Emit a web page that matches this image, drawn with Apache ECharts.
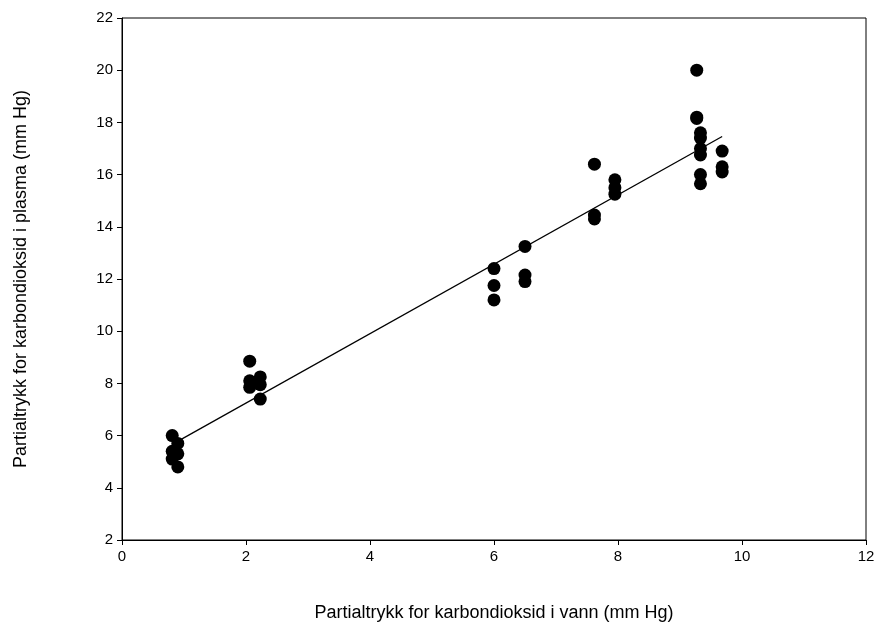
<!DOCTYPE html><html><head><meta charset="utf-8"><script src="https://cdn.jsdelivr.net/npm/echarts@6/dist/echarts.min.js"></script></head><body style="margin:0"><div id="c" style="width:880px;height:628px"></div><script>
var xVals=[0.81,0.9,0.81,0.9,0.81,0.9, 2.06,2.06,2.06,2.23,2.23,2.23, 6.0,6.0,6.0,6.5,6.5,6.5, 7.62,7.62,7.62,7.95,7.95,7.95, 9.27,9.27,9.27,9.33,9.33,9.33,9.33,9.33,9.33,9.68,9.68,9.68];
var yVals=[6.0,5.7,5.4,5.3,5.1,4.8, 8.85,8.1,7.85,8.25,7.95,7.4, 12.4,11.75,11.2,13.25,12.15,11.9, 16.4,14.45,14.3,15.8,15.5,15.25, 20.0,18.2,18.15,17.6,17.4,17.0,16.75,16.0,15.65,16.9,16.3,16.1];
var pts=xVals.map(function(x,i){return [x,yVals[i]];});
var n=xVals.length,sx=0,sy=0,sxx=0,sxy=0;
for(var i=0;i<n;i++){sx+=xVals[i];sy+=yVals[i];sxx+=xVals[i]*xVals[i];sxy+=xVals[i]*yVals[i];}
var b=(n*sxy-sx*sy)/(n*sxx-sx*sx),a=(sy-b*sx)/n;
var x0=Math.min.apply(null,xVals),x1=Math.max.apply(null,xVals);
var fit=[[x0,a+b*x0],[x1,a+b*x1]];
var ch=echarts.init(document.getElementById('c'));
var ax={axisLine:{show:true,lineStyle:{color:'#000'}},axisTick:{inside:false,length:5,lineStyle:{color:'#000'}},axisLabel:{color:'#000',fontSize:15,fontFamily:'Liberation Sans',margin:9},splitLine:{show:false},nameTextStyle:{color:'#000',fontSize:18,fontFamily:'Liberation Sans'},nameLocation:'middle'};
ch.setOption({animation:false,grid:{left:122,right:14,top:18,bottom:88,show:true,borderColor:'#000',borderWidth:1},
xAxis:Object.assign({type:'value',min:0,max:12,interval:2,name:'Partialtrykk for karbondioksid i vann (mm Hg)',nameGap:64},ax),
yAxis:Object.assign({type:'value',min:2,max:22,interval:2,name:'Partialtrykk for karbondioksid i plasma (mm Hg)',nameGap:92},ax),
series:[{type:'line',data:fit,symbol:'none',lineStyle:{color:'#000',width:1.3}},
{type:'scatter',data:pts,symbolSize:13,itemStyle:{color:'#000',opacity:1}}]});
</script></body></html>
